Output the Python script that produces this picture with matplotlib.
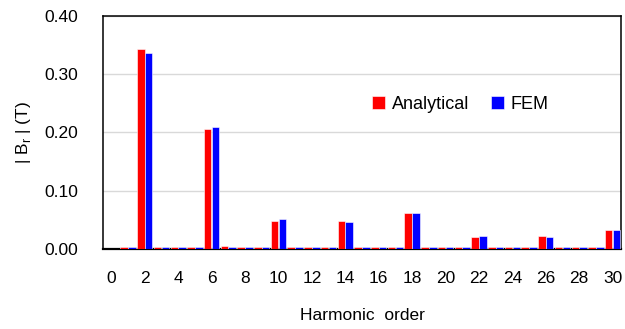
import numpy as np
import matplotlib.pyplot as plt

plt.rcParams["font.family"] = ["Liberation Sans", "DejaVu Sans"]

orders = list(range(0, 31))
analytical = [0.000, 0.003, 0.343, 0.003, 0.003, 0.003, 0.206, 0.005,
              0.003, 0.003, 0.048, 0.003, 0.003, 0.003, 0.048, 0.003,
              0.003, 0.003, 0.061, 0.003, 0.003, 0.003, 0.020, 0.003,
              0.003, 0.003, 0.023, 0.003, 0.003, 0.003, 0.033]
fem = [0.000, 0.003, 0.336, 0.003, 0.003, 0.003, 0.209, 0.003,
       0.003, 0.003, 0.051, 0.003, 0.003, 0.003, 0.046, 0.003,
       0.003, 0.003, 0.061, 0.003, 0.003, 0.003, 0.023, 0.003,
       0.003, 0.003, 0.021, 0.003, 0.003, 0.003, 0.033]
tick_orders = [0, 2, 4, 6, 8, 10, 12, 14, 16, 18, 20, 22, 24, 26, 28, 30]
y_ticks = [0.0, 0.1, 0.2, 0.3, 0.4]

fig = plt.figure(figsize=(6.25, 3.29), dpi=100)
ax = fig.add_axes([0.1648, 0.2432, 0.8288, 0.7082])

x = np.array(orders)
w = 0.45
ax.bar(x - w / 2 - 0.01, analytical, width=w, color="#FF0000",
       edgecolor="white", linewidth=0.4, label="Analytical", zorder=3)
ax.bar(x + w / 2 + 0.01, fem, width=w, color="#0000FF",
       edgecolor="white", linewidth=0.4, label="FEM", zorder=3)

ax.set_xlim(-0.5, 30.5)
ax.set_ylim(0, 0.4)
ax.set_xticks(tick_orders)
ax.set_xticklabels([str(t) for t in tick_orders])
ax.set_yticks(y_ticks)
ax.set_yticklabels(["%.2f" % v for v in y_ticks])
ax.tick_params(axis="both", length=0, labelsize=12.5, colors="black")
ax.tick_params(axis="x", pad=16)
ax.tick_params(axis="y", pad=18)

ax.grid(axis="y", color="#D9D9D9", linewidth=1, zorder=0)
for s in ax.spines.values():
    s.set_color("black")
    s.set_linewidth(1.1)
ax.spines["bottom"].set_linewidth(1.6)

ax.set_xlabel("Harmonic  order", fontsize=12.5, labelpad=16)
ax.set_ylabel("| B$_\\mathregular{r}$ | (T)", fontsize=12.5, labelpad=8)

ax.legend(loc="center", bbox_to_anchor=(0.69, 0.622), ncol=2, frameon=False,
          fontsize=13, handlelength=0.7, handleheight=0.7, handletextpad=0.4,
          columnspacing=1.2)

plt.savefig("out.png", dpi=100)
plt.close()
